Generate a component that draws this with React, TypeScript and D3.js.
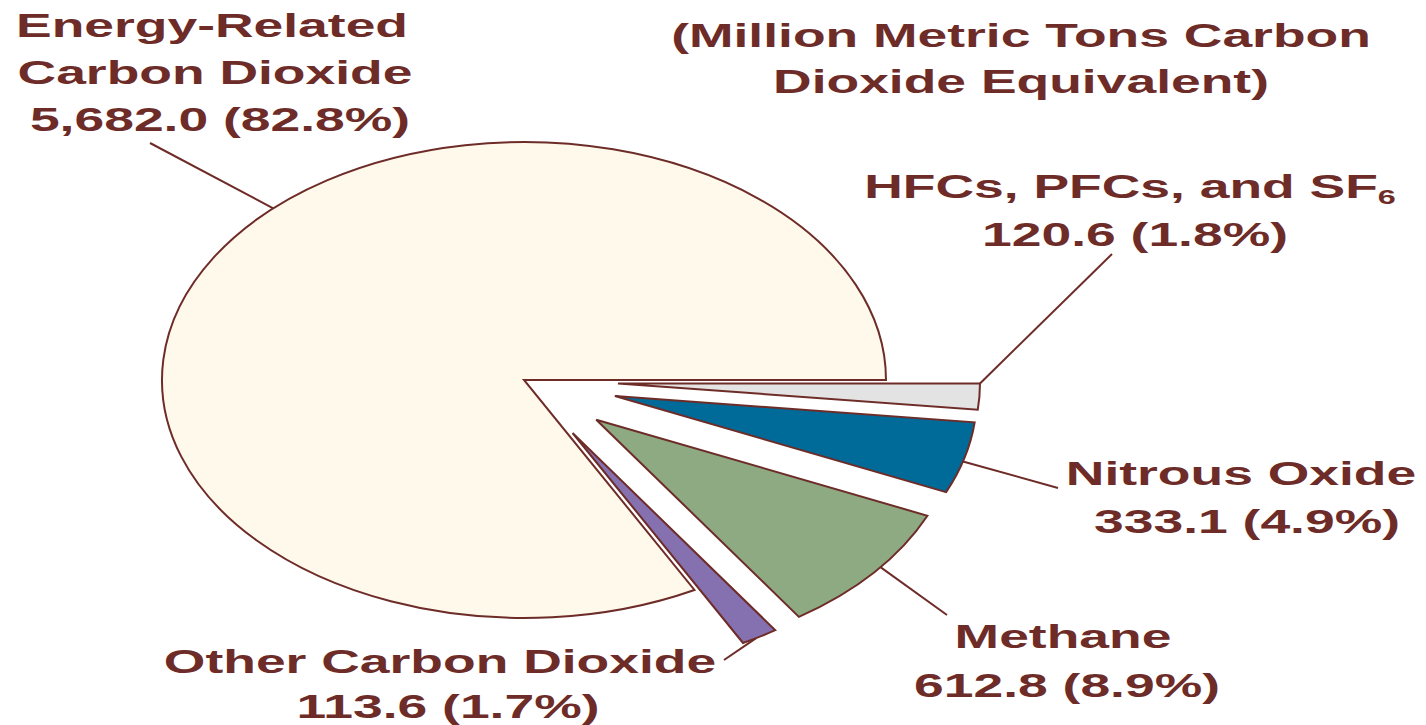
import React from "react";
import * as d3 from "d3";

// ---- data ----
const categories = [
  "HFCs, PFCs, and SF6",
  "Nitrous Oxide",
  "Methane",
  "Other Carbon Dioxide",
  "Energy-Related Carbon Dioxide",
];
const values = [120.6, 333.1, 612.8, 113.6, 5682.0];
const colors = ["#E3E3E3", "#006A98", "#8DAA83", "#8570B0", "#FFF9EC"];
const exploded = [true, true, true, true, false];
const titleLines = ["(Million Metric Tons Carbon", "Dioxide Equivalent)"];

const W = 1426;
const H = 725;
const CX = 524;
const CY = 380;
const RY = 238;
const RX = 362;
const SX = RX / RY;
const K = 0.26; // explode fraction of radius
const TEXT_SX = 1.62;
const INK = "#6E2C28";
const FONT = "'Liberation Sans', Arial, Helvetica, sans-serif";

type LabelSpec = {
  lines: { text: string; x: number; y: number; sub?: string }[];
  frac: number; // where on the outer arc the leader starts
  end: [number, number];
};

export default function App() {
  const total = d3.sum(values);
  const pie = d3
    .pie<number>()
    .sort(null)
    .value((d) => d)
    .startAngle(Math.PI / 2)
    .endAngle(Math.PI / 2 + 2 * Math.PI);
  const arcs = pie(values);
  const arcGen = d3.arc<d3.PieArcDatum<number>>().innerRadius(0).outerRadius(RY);

  const fmtV = d3.format(",.1f");
  const fmtP = d3.format(".1f");
  const valueText = (i: number) => `${fmtV(values[i])} (${fmtP((values[i] / total) * 100)}%)`;

  const offset = (i: number): [number, number] => {
    if (!exploded[i]) return [0, 0];
    const a = (arcs[i].startAngle + arcs[i].endAngle) / 2;
    return [K * RY * Math.sin(a), -K * RY * Math.cos(a)];
  };
  const edgePoint = (i: number, f: number): [number, number] => {
    const a = arcs[i].startAngle + f * (arcs[i].endAngle - arcs[i].startAngle);
    const [ox, oy] = offset(i);
    return [CX + SX * (ox + RY * Math.sin(a)), CY + oy - RY * Math.cos(a)];
  };

  const labels: LabelSpec[] = [
    {
      lines: [
        { text: "HFCs, PFCs, and SF", sub: "6", x: 1130, y: 198 },
        { text: valueText(0), x: 1135, y: 246 },
      ],
      frac: 0,
      end: [1112, 254],
    },
    {
      lines: [
        { text: "Nitrous Oxide", x: 1241, y: 485 },
        { text: valueText(1), x: 1247, y: 533 },
      ],
      frac: 0.55,
      end: [1058, 488],
    },
    {
      lines: [
        { text: "Methane", x: 1063, y: 648 },
        { text: valueText(2), x: 1067, y: 697 },
      ],
      frac: 0.45,
      end: [947, 615],
    },
    {
      lines: [
        { text: "Other Carbon Dioxide", x: 440, y: 673 },
        { text: valueText(3), x: 448, y: 718 },
      ],
      frac: 0.6,
      end: [724, 660],
    },
    {
      lines: [
        { text: "Energy-Related", x: 212, y: 37 },
        { text: "Carbon Dioxide", x: 215, y: 84 },
        { text: valueText(4), x: 220, y: 131 },
      ],
      frac: 0.551,
      end: [150, 143],
    },
  ];

  return (
    <svg
      width={W}
      height={H}
      style={{ position: "fixed", left: 0, top: 0, background: "#fff" }}
      fontFamily={FONT}
    >
      <rect width={W} height={H} fill="#fff" />
      {labels.map((l, i) => {
        const [x1, y1] = edgePoint(i, l.frac);
        return (
          <line
            key={"ld" + i}
            x1={x1}
            y1={y1}
            x2={l.end[0]}
            y2={l.end[1]}
            stroke={INK}
            strokeWidth={2}
          />
        );
      })}
      <g transform={`translate(${CX},${CY}) scale(${SX},1)`}>
        {arcs.map((a, i) => {
          const [ox, oy] = offset(i);
          return (
            <path
              key={categories[i]}
              d={arcGen(a) || ""}
              transform={`translate(${ox},${oy})`}
              fill={colors[i]}
              stroke={INK}
              strokeWidth={2}
              strokeLinejoin="miter"
              vectorEffect="non-scaling-stroke"
            />
          );
        })}
      </g>
      {labels.map((l, i) =>
        l.lines.map((ln, j) => (
          <text
            key={`t${i}-${j}`}
            transform={`translate(${ln.x},${ln.y}) scale(${TEXT_SX},1)`}
            textAnchor="middle"
            fontSize={33}
            fontWeight="bold"
            fill={INK}
          >
            {ln.text}
            {ln.sub ? (
              <tspan fontSize={20} dy={6}>
                {ln.sub}
              </tspan>
            ) : null}
          </text>
        ))
      )}
      {titleLines.map((t, j) => (
        <text
          key={"title" + j}
          transform={`translate(1021,${47 + j * 46}) scale(${TEXT_SX},1)`}
          textAnchor="middle"
          fontSize={33}
          fontWeight="bold"
          fill={INK}
        >
          {t}
        </text>
      ))}
    </svg>
  );
}
